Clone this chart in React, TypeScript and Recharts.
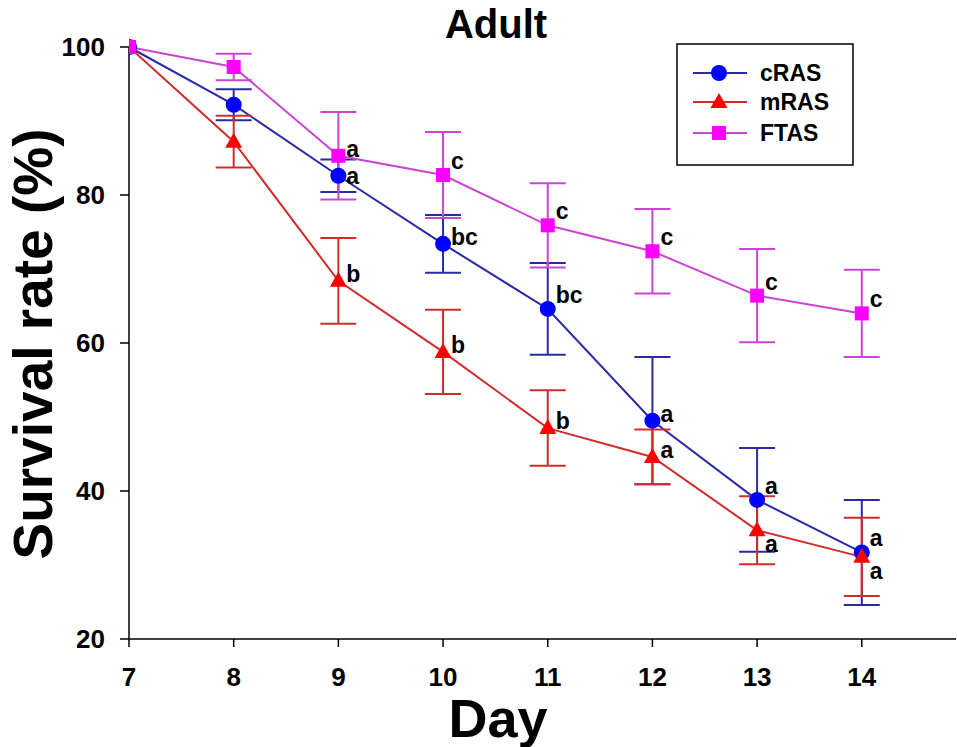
import React from "react";
import { LineChart, Line, XAxis, YAxis, ErrorBar, LabelList, Label } from "recharts";

// ─── Data ──────────────────────────────────────────────────────────────────────

const days = [7, 8, 9, 10, 11, 12, 13, 14];
const yTicks = [20, 40, 60, 80, 100];

const cRAS = [100, 92.2, 82.6, 73.4, 64.6, 49.5, 38.8, 31.7];
const cRASErr = [null, 2.1, 2.2, 3.9, 6.2, 8.6, 7.0, 7.1];
const cRASLetters = ["", "", "a", "bc", "bc", "a", "a", "a"];

const mRAS = [100, 87.2, 68.4, 58.8, 48.5, 44.6, 34.7, 31.1];
const mRASErr = [null, 3.5, 5.8, 5.7, 5.1, 3.7, 4.6, 5.3];
const mRASLetters = ["", "", "b", "b", "b", "a", "a", "a"];

const FTAS = [100, 97.3, 85.3, 82.7, 75.9, 72.4, 66.4, 64.0];
const FTASErr = [null, 1.8, 5.9, 5.8, 5.7, 5.7, 6.3, 5.9];
const FTASLetters = ["", "", "a", "c", "c", "c", "c", "c"];

// where each significance letter sits relative to its marker
const cRASSide = ["", "", "low", "mid", "up", "mid", "up", "up"];
const mRASSide = ["", "", "mid", "mid", "mid", "mid", "down", "down"];
const FTASSide = ["", "", "mid", "up", "up", "up", "up", "up"];

const rows = days.map((day, i) => ({
  day,
  cRAS: cRAS[i],
  cErr: cRASErr[i],
  cLet: cRASLetters[i],
  mRAS: mRAS[i],
  mErr: mRASErr[i],
  mLet: mRASLetters[i],
  FTAS: FTAS[i],
  fErr: FTASErr[i],
  fLet: FTASLetters[i],
}));

// ─── Styles ────────────────────────────────────────────────────────────────────

const FONT = "'Liberation Sans', Arial, sans-serif";
const BLUE_LINE = "#2a2aa6";
const BLUE_DOT = "#0000ff";
const RED_LINE = "#d02c2c";
const RED_DOT = "#ff0000";
const PINK_LINE = "#cc44d4";
const PINK_DOT = "#ff00ff";

const sideOffset: Record<string, number> = { up: -6, mid: 1, low: 8, down: 22 };

const letterRenderer = (sides: string[]) => (props: any) => {
  const { x, y, index, value } = props;
  if (!value) return null;
  return (
    <text
      x={Number(x) + 8}
      y={Number(y) + sideOffset[sides[index]]}
      fontFamily={FONT}
      fontWeight="bold"
      fontSize={23}
      fill="#000"
    >
      {value}
    </text>
  );
};

const circleDot = (p: any) => (
  <circle key={`c${p.index}`} cx={p.cx} cy={p.cy} r={8} fill={BLUE_DOT} />
);

const triangleDot = (p: any) => (
  <polygon
    key={`t${p.index}`}
    points={`${p.cx},${p.cy - 9} ${p.cx + 8.5},${p.cy + 6} ${p.cx - 8.5},${p.cy + 6}`}
    fill={RED_DOT}
  />
);

const squareDot = (p: any) => (
  <rect key={`s${p.index}`} x={p.cx - 7} y={p.cy - 7} width={14} height={14} fill={PINK_DOT} />
);

// ─── Legend ────────────────────────────────────────────────────────────────────

function ChartLegend() {
  const items = [
    { name: "cRAS", line: BLUE_LINE, y: 30, mark: <circle cx={43} cy={30} r={8} fill={BLUE_DOT} /> },
    {
      name: "mRAS",
      line: RED_LINE,
      y: 59,
      mark: <polygon points="43,50 51.5,65 34.5,65" fill={RED_DOT} />,
    },
    { name: "FTAS", line: PINK_LINE, y: 90, mark: <rect x={36} y={83} width={14} height={14} fill={PINK_DOT} /> },
  ];
  return (
    <svg
      width={178}
      height={123}
      style={{ position: "absolute", left: 676, top: 43 }}
    >
      <rect x={1} y={1} width={176} height={121} fill="#fff" stroke="#000" strokeWidth={1.5} />
      {items.map((it) => (
        <g key={it.name}>
          <line x1={17} x2={71} y1={it.y} y2={it.y} stroke={it.line} strokeWidth={2} />
          {it.mark}
          <text
            x={84}
            y={it.y}
            dominantBaseline="central"
            fontFamily={FONT}
            fontWeight="bold"
            fontSize={23}
            fill="#000"
          >
            {it.name}
          </text>
        </g>
      ))}
    </svg>
  );
}

// ─── Component ─────────────────────────────────────────────────────────────────

export default function App() {
  const tickStyle = { fontFamily: FONT, fontWeight: "bold", fill: "#000" };
  return (
    <div style={{ position: "absolute", left: 0, top: 0, width: 957, height: 747, background: "#fff" }}>
      <div
        style={{
          position: "absolute",
          left: 0,
          top: 4,
          width: 992,
          textAlign: "center",
          fontFamily: FONT,
          fontWeight: "bold",
          fontSize: 40,
          lineHeight: "40px",
        }}
      >
        Adult
      </div>
      <LineChart
        width={957}
        height={747}
        data={rows}
        margin={{ top: 47, right: 1, bottom: 0, left: 0 }}
      >
        <XAxis
          dataKey="day"
          type="number"
          domain={[7, 14.9]}
          ticks={days}
          allowDataOverflow
          height={108}
          tickSize={8}
          tickMargin={21}
          tick={{ ...tickStyle, fontSize: 26 }}
          axisLine={{ stroke: "#000", strokeWidth: 1.5 }}
          tickLine={{ stroke: "#000", strokeWidth: 1.5 }}
        >
          <Label
            content={() => (
              <text
                x={498}
                y={737}
                textAnchor="middle"
                fontFamily={FONT}
                fontWeight="bold"
                fontSize={54}
                fill="#000"
              >
                Day
              </text>
            )}
          />
        </XAxis>
        <YAxis
          type="number"
          domain={[20, 100]}
          ticks={yTicks}
          width={129}
          tickSize={9}
          tickMargin={15}
          tick={{ ...tickStyle, fontSize: 26 }}
          axisLine={{ stroke: "#000", strokeWidth: 1.5 }}
          tickLine={{ stroke: "#000", strokeWidth: 1.5 }}
        >
          <Label
            content={() => (
              <text
                x={52}
                y={344}
                transform="rotate(-90 52 344)"
                textAnchor="middle"
                fontFamily={FONT}
                fontWeight="bold"
                fontSize={55}
                fill="#000"
              >
                Survival rate (%)
              </text>
            )}
          />
        </YAxis>

        <Line
          dataKey="cRAS"
          stroke={BLUE_LINE}
          strokeWidth={2}
          dot={circleDot}
          activeDot={false}
          isAnimationActive={false}
        >
          <ErrorBar dataKey="cErr" width={18} stroke={BLUE_LINE} strokeWidth={2} isAnimationActive={false} />
          <LabelList dataKey="cLet" content={letterRenderer(cRASSide)} />
        </Line>
        <Line
          dataKey="mRAS"
          stroke={RED_LINE}
          strokeWidth={2}
          dot={triangleDot}
          activeDot={false}
          isAnimationActive={false}
        >
          <ErrorBar dataKey="mErr" width={18} stroke={RED_LINE} strokeWidth={2} isAnimationActive={false} />
          <LabelList dataKey="mLet" content={letterRenderer(mRASSide)} />
        </Line>
        <Line
          dataKey="FTAS"
          stroke={PINK_LINE}
          strokeWidth={2}
          dot={squareDot}
          activeDot={false}
          isAnimationActive={false}
        >
          <ErrorBar dataKey="fErr" width={18} stroke={PINK_LINE} strokeWidth={2} isAnimationActive={false} />
          <LabelList dataKey="fLet" content={letterRenderer(FTASSide)} />
        </Line>
      </LineChart>
      <ChartLegend />
    </div>
  );
}
